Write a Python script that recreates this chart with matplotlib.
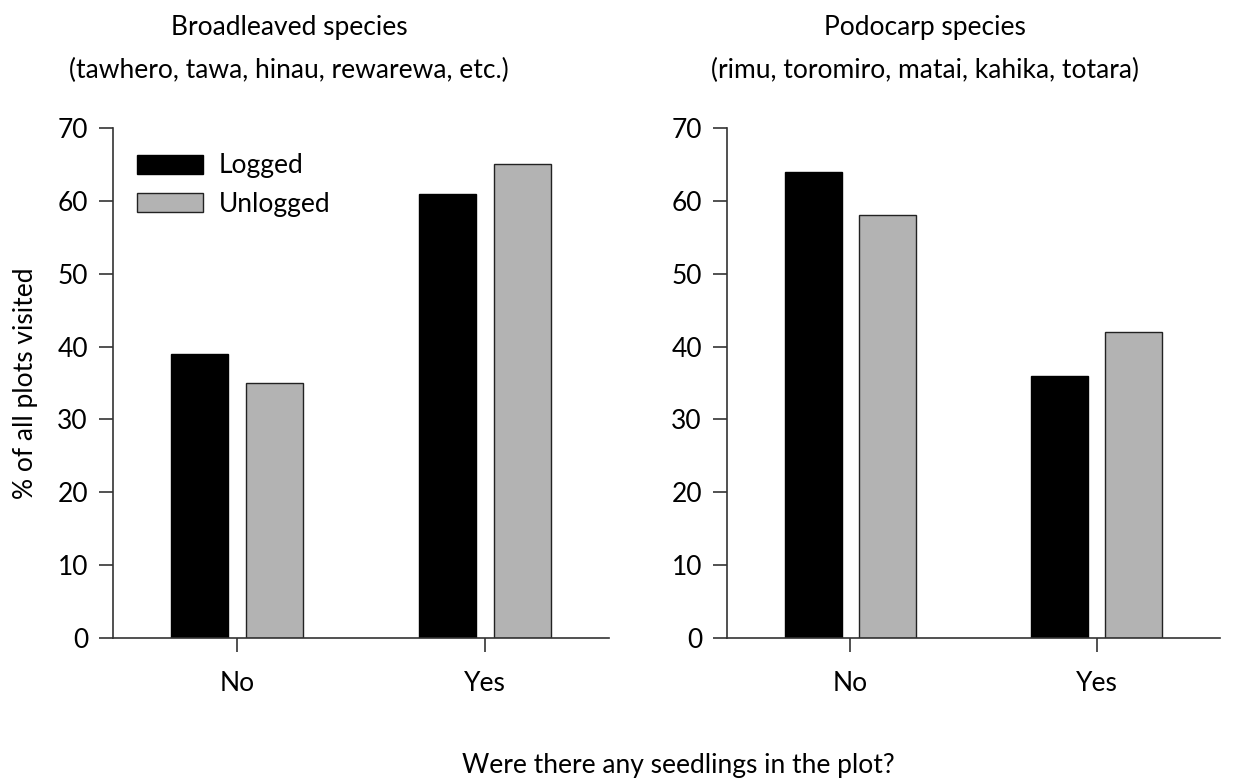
import matplotlib
matplotlib.use("Agg")
import matplotlib.pyplot as plt
import numpy as np

plt.rcParams['font.family'] = ['Lato', 'DejaVu Sans']

categories = ["No", "Yes"]
series = ["Logged", "Unlogged"]
broadleaved_logged = [39, 61]
broadleaved_unlogged = [35, 65]
podocarp_logged = [64, 36]
podocarp_unlogged = [58, 42]
yticks = [0, 10, 20, 30, 40, 50, 60, 70]

titles = ["Broadleaved species\n(tawhero, tawa, hinau, rewarewa, etc.)",
          "Podocarp species\n(rimu, toromiro, matai, kahika, totara)"]


def draw_panel(ax, logged, unlogged, legend=False):
    x = np.arange(len(categories))
    w = 0.23
    ax.bar(x - 0.15, logged, w, color='black', edgecolor='black', linewidth=1, label=series[0])
    ax.bar(x + 0.15, unlogged, w, color='#b3b3b3', edgecolor='#222222', linewidth=1, label=series[1])
    ax.set_xlim(-0.5, 1.5)
    ax.set_ylim(0, 70)
    ax.set_xticks(x)
    ax.set_xticklabels(categories)
    ax.set_yticks(yticks)
    ax.spines['right'].set_visible(False)
    ax.spines['top'].set_visible(False)
    for s in ['left', 'bottom']:
        ax.spines[s].set_linewidth(1.2)
        ax.spines[s].set_color('#333333')
    ax.tick_params(axis='both', labelsize=19, length=10, width=1.2, color='#333333', pad=8)
    ax.tick_params(axis='x', pad=14)
    if legend:
        ax.legend(loc='upper left', bbox_to_anchor=(0.048, 0.95), frameon=False, fontsize=19,
                  borderpad=0, borderaxespad=0,
                  handlelength=2.5, handleheight=0.7, handletextpad=0.6, labelspacing=0.5)


fig = plt.figure(figsize=(12.43, 7.8), dpi=100)
ax1 = fig.add_axes([113 / 1243, 1 - 638 / 780, 496 / 1243, 510 / 780])
ax2 = fig.add_axes([727 / 1243, 1 - 638 / 780, 493 / 1243, 510 / 780])

draw_panel(ax1, broadleaved_logged, broadleaved_unlogged, legend=True)
draw_panel(ax2, podocarp_logged, podocarp_unlogged)

ax1.set_ylabel("% of all plots visited", fontsize=19, labelpad=14)

fig.text(289 / 1243, 1 - 27 / 780, titles[0].split("\n")[0], ha='center', va='center', fontsize=19)
fig.text(289 / 1243, 1 - 70 / 780, titles[0].split("\n")[1], ha='center', va='center', fontsize=19)
fig.text(925 / 1243, 1 - 27 / 780, titles[1].split("\n")[0], ha='center', va='center', fontsize=19)
fig.text(925 / 1243, 1 - 70 / 780, titles[1].split("\n")[1], ha='center', va='center', fontsize=19)
fig.text(678 / 1243, 1 - 765 / 780, "Were there any seedlings in the plot?", ha='center', va='center', fontsize=19)

fig.savefig("out.png", dpi=100)
